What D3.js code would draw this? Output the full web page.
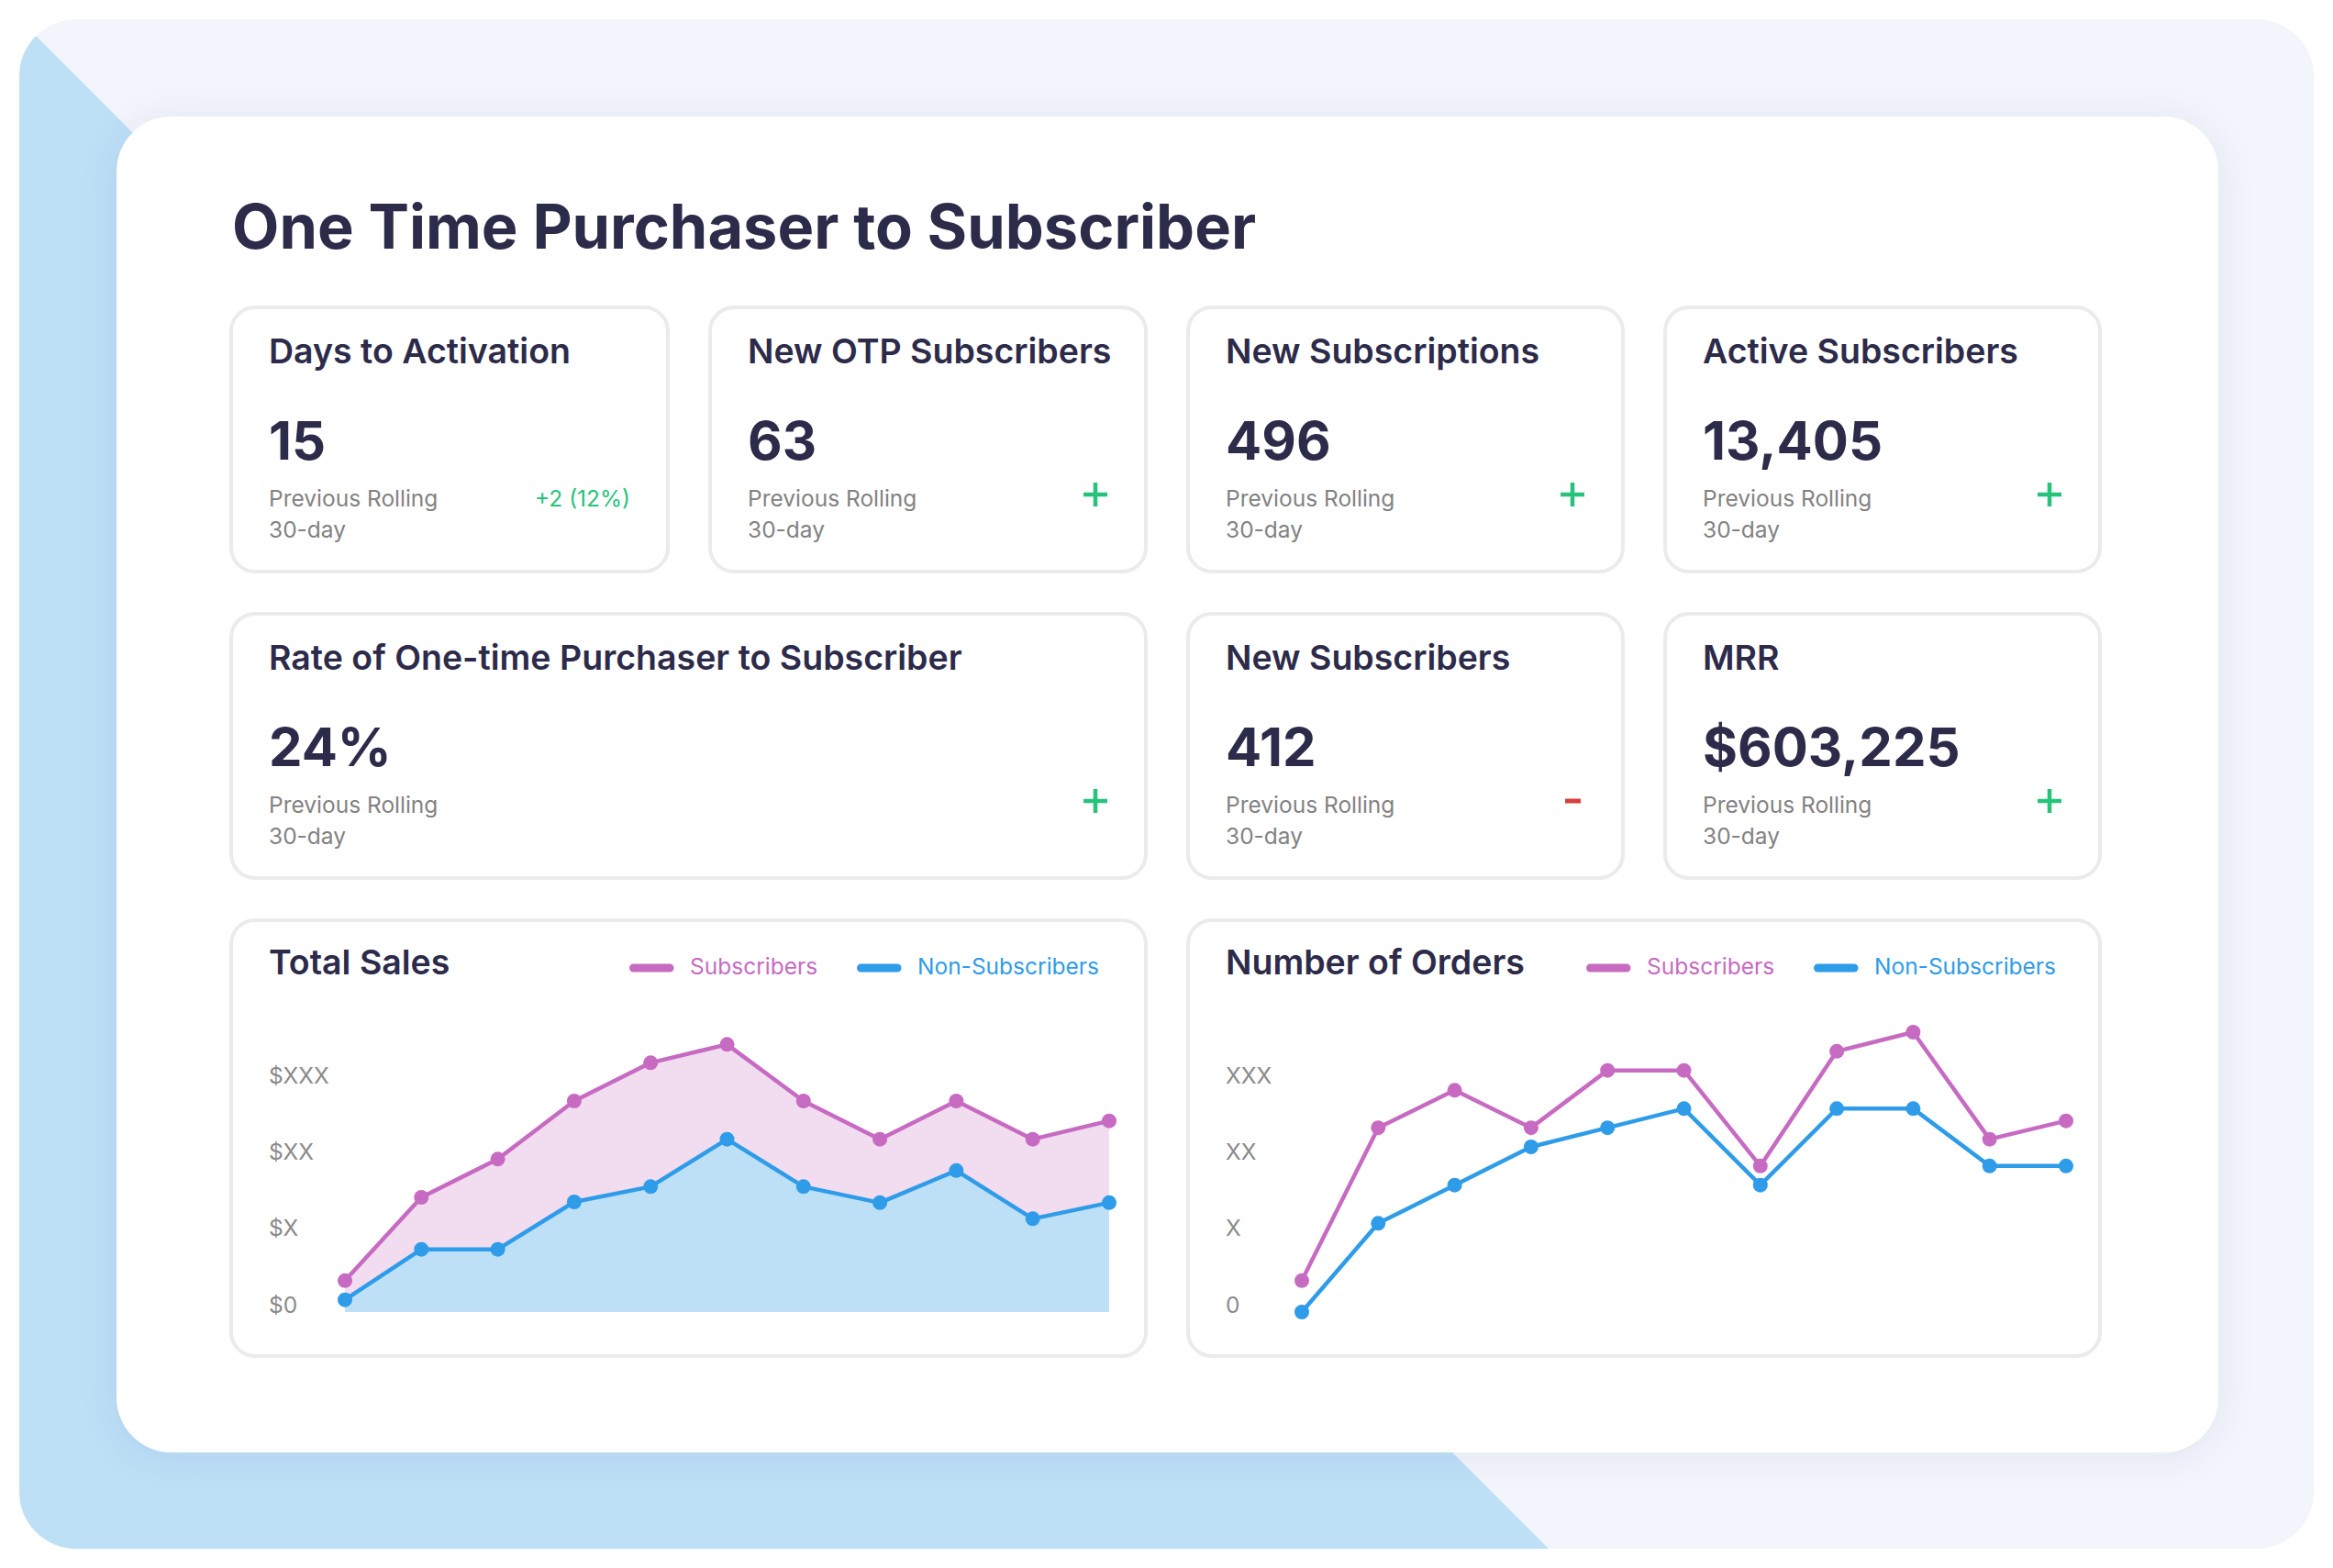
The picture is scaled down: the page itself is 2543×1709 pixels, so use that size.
<!DOCTYPE html>
<html>
<head>
<meta charset="utf-8">
<script src="https://cdn.jsdelivr.net/npm/d3@7/dist/d3.min.js"></script>
<style>
  html, body { margin: 0; padding: 0; background: #ffffff; }
  svg { display: block; font-family: Inter, "Noto Sans", sans-serif; }
</style>
</head>
<body>
<script>
// ---------------- DATA ----------------
const pageTitle = "One Time Purchaser to Subscriber";

const metricTitles = ["Days to Activation", "New OTP Subscribers", "New Subscriptions", "Active Subscribers",
                      "Rate of One-time Purchaser to Subscriber", "New Subscribers", "MRR"];
const metricValues = ["15", "63", "496", "13,405", "24%", "412", "$603,225"];
const metricDeltas = ["+2 (12%)", "+", "+", "+", "+", "-", "+"];
const metricNote = ["Previous Rolling", "30-day"];

const periods = ["P1", "P2", "P3", "P4", "P5", "P6", "P7", "P8", "P9", "P10", "P11"];
const seriesNames = ["Subscribers", "Non-Subscribers"];

const salesTicks = ["$0", "$X", "$XX", "$XXX"];
const salesSubscribers    = [0.41, 1.50, 2.00, 2.76, 3.26, 3.50, 2.76, 2.26, 2.76, 2.26, 2.50];
const salesNonSubscribers = [0.16, 0.82, 0.82, 1.44, 1.64, 2.26, 1.64, 1.43, 1.85, 1.22, 1.43];

const orderTicks = ["0", "X", "XX", "XXX"];
const ordersSubscribers    = [0.41, 2.41, 2.90, 2.41, 3.16, 3.16, 1.91, 3.41, 3.66, 2.26, 2.50];
const ordersNonSubscribers = [0.00, 1.16, 1.66, 2.16, 2.41, 2.66, 1.66, 2.66, 2.66, 1.91, 1.91];

// ---------------- STYLE / LAYOUT ----------------
const W = 2543, H = 1709;
const C = {
  lavender: "#f3f5fc", bgBlue: "#bde0f7", navy: "#2d2b4a", gray: "#828282",
  border: "#ebebeb", green: "#25c47a", red: "#d6403a",
  pink: "#c76bc2", pinkFill: "#f1dcf0", blue: "#2f9ce9", blueFill: "#bde0f7", tick: "#8a8a8a"
};
const metricBoxes = [
  [250, 333, 730, 625], [772, 333, 1251, 625], [1293, 333, 1771, 625], [1813, 333, 2291, 625],
  [250, 667, 1251, 959], [1293, 667, 1771, 959], [1813, 667, 2291, 959]
];

const svg = d3.select("body").append("svg").attr("width", W).attr("height", H);
const defs = svg.append("defs");
defs.append("clipPath").attr("id", "outerClip")
  .append("rect").attr("x", 21).attr("y", 21).attr("width", 2501).attr("height", 1667).attr("rx", 62);
const f = defs.append("filter").attr("id", "shadow").attr("x", "-10%").attr("y", "-10%").attr("width", "120%").attr("height", "120%");
f.append("feDropShadow").attr("dx", 0).attr("dy", 4).attr("stdDeviation", 20)
  .attr("flood-color", "#3a3f6b").attr("flood-opacity", 0.08);

// background
const bg = svg.append("g").attr("clip-path", "url(#outerClip)");
bg.append("rect").attr("x", 21).attr("y", 21).attr("width", 2501).attr("height", 1667).attr("fill", C.lavender);
bg.append("path").attr("d", "M21,21 L1688,1688 L21,1688 Z").attr("fill", C.bgBlue);

// main card
svg.append("rect").attr("x", 127).attr("y", 127).attr("width", 2291).attr("height", 1456)
  .attr("rx", 60).attr("fill", "#ffffff").attr("filter", "url(#shadow)");

svg.append("text").attr("x", 253).attr("y", 271)
  .attr("font-size", 66.7).attr("font-weight", 700).attr("fill", C.navy).text(pageTitle);

function cardFrame(x0, y0, x1, y1) {
  svg.append("rect").attr("x", x0 + 2).attr("y", y0 + 2).attr("width", x1 - x0 - 4).attr("height", y1 - y0 - 4)
    .attr("rx", 26).attr("fill", "#ffffff").attr("stroke", C.border).attr("stroke-width", 4);
}

// metric cards
metricBoxes.forEach((b, i) => {
  const [x0, y0, x1, y1] = b;
  cardFrame(x0, y0, x1, y1);
  const g = svg.append("g");
  g.append("text").attr("x", x0 + 43).attr("y", y0 + 63).attr("font-size", 37.5).attr("font-weight", 600)
    .attr("fill", C.navy).text(metricTitles[i]);
  g.append("text").attr("x", x0 + 43).attr("y", y0 + 168).attr("font-size", 58).attr("font-weight", 700)
    .attr("fill", C.navy).text(metricValues[i]);
  metricNote.forEach((t, k) => {
    g.append("text").attr("x", x0 + 43).attr("y", y0 + 219 + k * 34).attr("font-size", 24.5)
      .attr("fill", C.gray).text(t);
  });
  const d = metricDeltas[i];
  const cx = x1 - 57, cy = y0 + 206;
  if (d === "+") {
    g.append("path").attr("d", `M${cx - 13},${cy} H${cx + 13} M${cx},${cy - 13} V${cy + 13}`)
      .attr("stroke", C.green).attr("stroke-width", 4.5).attr("fill", "none");
  } else if (d === "-") {
    g.append("path").attr("d", `M${cx - 8},${cy} H${cx + 9}`)
      .attr("stroke", C.red).attr("stroke-width", 5).attr("fill", "none");
  } else {
    g.append("text").attr("x", x1 - 43).attr("y", y0 + 219).attr("font-size", 24.5)
      .attr("text-anchor", "end").attr("fill", C.green).text(d);
  }
});

// chart cards
function chartCard(x0, x1, title, ticks, subs, nons, filled) {
  const y0 = 1001, y1 = 1480;
  cardFrame(x0, y0, x1, y1);
  const g = svg.append("g");
  g.append("text").attr("x", x0 + 43).attr("y", 1062).attr("font-size", 37.5).attr("font-weight", 600)
    .attr("fill", C.navy).text(title);
  // legend
  const legendCols = [C.pink, C.blue];
  const swatchX = [x0 + 436, x0 + 684];
  seriesNames.forEach((n, k) => {
    g.append("line").attr("x1", swatchX[k] + 4.5).attr("x2", swatchX[k] + 44).attr("y1", 1055).attr("y2", 1055)
      .attr("stroke", legendCols[k]).attr("stroke-width", 9).attr("stroke-linecap", "round");
    g.append("text").attr("x", swatchX[k] + 66).attr("y", 1062).attr("font-size", 24.5)
      .attr("fill", legendCols[k]).text(n);
  });

  const x = d3.scalePoint().domain(periods).range([x0 + 126, x0 + 959]);
  const y = d3.scaleLinear().domain([0, 3]).range([1430, 1180]);

  const axis = d3.axisLeft(y).tickValues([0, 1, 2, 3]).tickFormat(v => ticks[v]).tickSize(0).tickPadding(0);
  const ag = g.append("g").attr("transform", `translate(${x0 + 43},0)`).call(axis);
  ag.select(".domain").remove();
  ag.selectAll("text").attr("x", 0).attr("dy", 0).attr("text-anchor", "start")
    .attr("font-family", "Inter, 'Noto Sans', sans-serif").attr("font-size", 24.5).attr("fill", C.tick);

  const pts = (arr) => arr.map((v, i) => [periods[i], v]);
  if (filled) {
    const area = d3.area().x(d => x(d[0])).y0(y(0)).y1(d => y(d[1]));
    g.append("path").attr("d", area(pts(subs))).attr("fill", C.pinkFill);
    g.append("path").attr("d", area(pts(nons))).attr("fill", C.blueFill);
  }
  const line = d3.line().x(d => x(d[0])).y(d => y(d[1]));
  [[subs, C.pink], [nons, C.blue]].forEach(([arr, col]) => {
    g.append("path").attr("d", line(pts(arr))).attr("fill", "none").attr("stroke", col)
      .attr("stroke-width", 4.5).attr("stroke-linejoin", "round");
    g.selectAll(null).data(pts(arr)).enter().append("circle")
      .attr("cx", d => x(d[0])).attr("cy", d => y(d[1])).attr("r", 8).attr("fill", col);
  });
}

chartCard(250, 1251, "Total Sales", salesTicks, salesSubscribers, salesNonSubscribers, true);
chartCard(1293, 2291, "Number of Orders", orderTicks, ordersSubscribers, ordersNonSubscribers, false);
</script>
</body>
</html>
